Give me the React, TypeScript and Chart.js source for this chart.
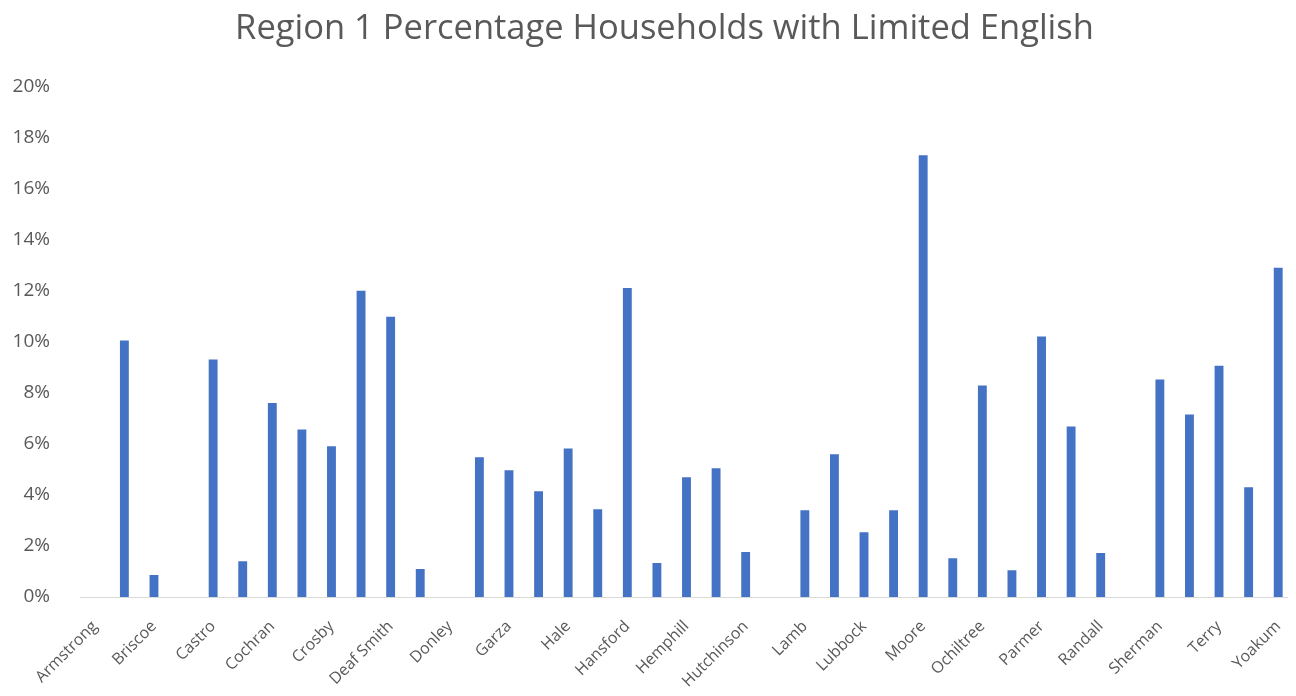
import React, { useEffect, useRef } from "react";
import { Chart, registerables } from "chart.js";

Chart.register(...registerables);

const counties = [
  "Armstrong", "Bailey", "Briscoe", "Carson", "Castro", "Childress", "Cochran", "Collingsworth",
  "Crosby", "Dallam", "Deaf Smith", "Dickens", "Donley", "Floyd", "Garza", "Gray", "Hale", "Hall",
  "Hansford", "Hartley", "Hemphill", "Hockley", "Hutchinson", "King", "Lamb", "Lipscomb", "Lubbock",
  "Lynn", "Moore", "Motley", "Ochiltree", "Oldham", "Parmer", "Potter", "Randall", "Roberts",
  "Sherman", "Swisher", "Terry", "Wheeler", "Yoakum",
];

const limitedEnglishPct = [
  0, 10.05, 0.86, 0, 9.3, 1.4, 7.6, 6.56,
  5.9, 12.0, 10.98, 1.1, 0, 5.47, 4.96, 4.14, 5.82, 3.44,
  12.1, 1.33, 4.69, 5.04, 1.76, 0, 3.4, 5.59, 2.54,
  3.4, 17.3, 1.52, 8.28, 1.05, 10.2, 6.68, 1.72, 0,
  8.52, 7.15, 9.06, 4.3, 12.9,
];

const titleText = "Region 1 Percentage Households with Limited English";

export default function App() {
  const ref = useRef<HTMLCanvasElement>(null);
  useEffect(() => {
    if (!ref.current) return;
    const chart = new Chart(ref.current, {
      type: "bar",
      data: {
        labels: counties,
        datasets: [
          {
            data: limitedEnglishPct,
            backgroundColor: "#4472c4",
            barPercentage: 0.3,
            categoryPercentage: 1,
            yAxisID: "y",
          },
        ],
      },
      options: {
        animation: false,
        responsive: true,
        maintainAspectRatio: false,
        layout: { padding: { left: 0, right: 0, top: 0, bottom: 0 } },
        plugins: {
          legend: { display: false },
          tooltip: { enabled: false },
          title: {
            display: true,
            text: titleText,
            color: "#595959",
            font: { family: "Open Sans", size: 34.5, weight: "normal" },
            padding: { top: 0, bottom: 37 },
          },
        },
        scales: {
          x: {
            grid: { display: false },
            border: { display: true, color: "#d9d9d9", width: 1 },
            afterFit: (s: any) => {
              s.paddingLeft = 0;
              s.paddingRight = 0;
              s.height = 91;
            },
            ticks: {
              autoSkip: false,
              maxRotation: 45,
              minRotation: 45,
              color: "#595959",
              font: { family: "Open Sans", size: 16 },
              padding: 12,
              callback: (_v: any, i: number) => (i % 2 === 0 ? counties[i] : ""),
            },
          },
          y: {
            min: 0,
            max: 20,
            grid: { display: false },
            border: { display: false },
            afterFit: (s: any) => {
              s.width = 72;
            },
            ticks: {
              stepSize: 2,
              color: "#595959",
              font: { family: "Open Sans", size: 19 },
              padding: 22,
              callback: (v: any) => v + "%",
            },
          },
          ySpacer: {
            position: "right",
            min: 0,
            max: 20,
            grid: { display: false },
            border: { display: false },
            ticks: { display: false },
            afterFit: (s: any) => {
              s.width = 28;
            },
          },
        },
      },
    });
    return () => chart.destroy();
  }, []);
  return (
    <div style={{ width: 1280, height: 680, overflow: "hidden" }}>
      <div style={{ width: 1313, height: 680, position: "relative" }}>
        <canvas ref={ref} />
      </div>
    </div>
  );
}
